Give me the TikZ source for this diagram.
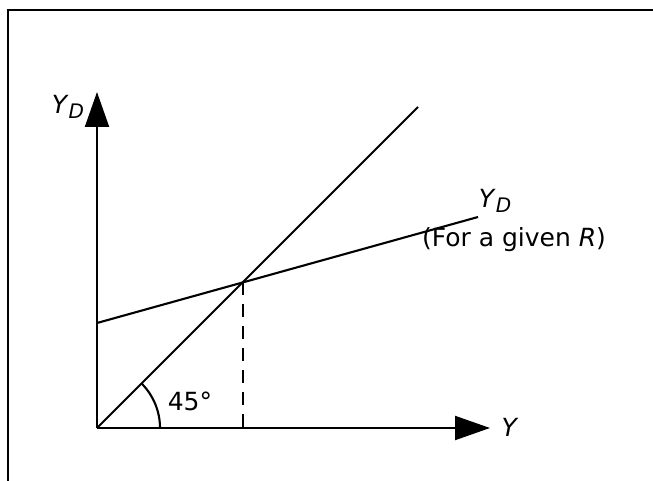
\documentclass[tikz,border=0pt]{standalone}
\usepackage{fontspec}
\setmainfont{DejaVu Sans}
\usetikzlibrary{calc, arrows.meta}

\newcommand{\YD}{\textit{Y}\raisebox{-0.35ex}{\fontsize{20}{22}\selectfont\textit{D}}}

\begin{document}
\begin{tikzpicture}[x=1pt, y=-1pt, line width=2.1pt,
    axis/.style={-{Triangle[length=35pt, width=24pt]}},
    lbl/.style={font=\fontsize{25}{28}\selectfont, inner sep=0pt}]
  \useasboundingbox (0,0) rectangle (653,481);
  % frame
  \draw (8,481) -- (8,10) -- (653,10);

  \coordinate (O) at (97,428);
  \coordinate (ytip) at (97,92);
  \coordinate (xtip) at (490,428);
  \coordinate (diagEnd) at (418,107);
  \coordinate (ydStart) at (97,323);
  \coordinate (ydEnd) at (478,217);
  \coordinate (E) at (243,282);
  \coordinate (Ebase) at (243,428);

  % axes
  \draw[axis] (O) -- (ytip);
  \draw[axis] (O) -- (xtip);

  % 45 degree line and demand line
  \draw (O) -- (diagEnd);
  \draw (ydStart) -- (ydEnd);
  \draw[dash pattern=on 13pt off 9pt] (E) -- (Ebase);

  % angle mark
  \draw ($(O)+(63,0)$) arc[start angle=0, end angle=-45, radius=63];

  \node[lbl] (ylabel) at (68,107) {\YD};
  \node[lbl] (xlabel) at (510,427) {\textit{Y}};
  \node[lbl] (angle) at (190,401) {45°};
  \node[lbl] (ydlabel) at (495,201) {\YD};
  \node[lbl] (given) at (514,240) {(For a given \textit{R})};
\end{tikzpicture}
\end{document}
